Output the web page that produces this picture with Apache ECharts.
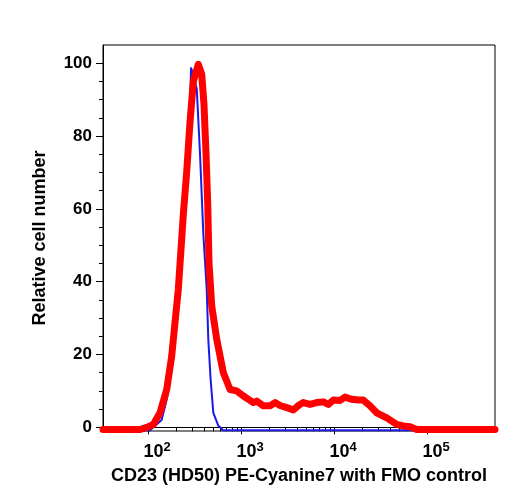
<!DOCTYPE html>
<html>
<head>
<meta charset="utf-8">
<script src="https://cdn.jsdelivr.net/npm/echarts@6/dist/echarts.min.js"></script>
<style>
  html, body { margin: 0; padding: 0; background: #fff; }
  #chart { width: 516px; height: 503px; }
</style>
</head>
<body>
<div id="chart"></div>
<script>
// FMO control (blue)
const fmoX = [32.8, 105, 140, 160, 181, 197, 214, 233, 248, 266, 281, 289.9, 334.2, 362.4, 393.4, 427.6, 445, 471.7, 503.5, 569.6, 639.9, 538000];
const fmoY = [-0.8, -0.8, 2, 8, 17, 26, 36, 50, 60, 72, 84, 98.8, 93, 75, 53, 38, 24, 13, 4, 0.5, -0.8, -0.8];

// CD23 stained (red)
const cd23X = [32.8, 82, 96.8, 114, 134.6, 158.8, 179.8, 195, 211.7, 230, 239.7, 260.9, 283, 307, 347.5, 377.7, 399.6, 420.6, 438.7, 452.9, 484.2, 548, 645.7, 762, 899, 1060, 1250, 1356, 1475, 1738, 2051, 2321, 2626, 3100, 3650, 4130, 4676, 5519, 6513, 7677, 8690, 9827, 11610, 13130, 15490, 18250, 20660, 24380, 28770, 36870, 47210, 55600, 65610, 77440, 538000];
const cd23Y = [-0.6, -0.6, 0, 0.8, 4, 10.4, 19.6, 28.8, 37.9, 51.6, 58.5, 70.4, 84, 95, 99.7, 97, 88.7, 75, 61, 45, 33.3, 24.2, 15, 10.4, 10, 8.6, 7.4, 6.8, 7.2, 5.9, 5.9, 6.8, 6, 5.4, 4.8, 6, 6.8, 6.3, 6.8, 7, 6.3, 7.5, 7.4, 8.3, 7.7, 7.5, 7.5, 5.9, 4, 2.6, 0.8, 0.4, 0.2, -0.6, -0.6];

const xMajor = [100, 1000, 10000, 100000];
const xMinor = [40, 50, 60, 70, 80, 90, 200, 300, 400, 500, 600, 700, 800, 900, 2000, 3000, 4000, 5000, 6000, 7000, 8000, 9000, 20000, 30000, 40000, 50000, 60000, 70000, 80000, 90000, 200000, 300000, 400000, 500000];
const yMajor = [0, 20, 40, 60, 80, 100];
const yMinor = [5, 10, 15, 25, 30, 35, 45, 50, 55, 65, 70, 75, 85, 90, 95];

const font = '"Liberation Sans", Arial, Helvetica, sans-serif';
const myChart = echarts.init(document.getElementById('chart'));

const xRange = { min: 32.8, max: 538000 };
const yRange = { min: -1, max: 105 };

myChart.setOption({
  animation: false,
  grid: {
    left: 103, right: 21, top: 45, bottom: 72,
    show: true, borderColor: '#000', borderWidth: 1
  },
  xAxis: [
    {
      type: 'log', ...xRange,
      name: 'CD23 (HD50) PE-Cyanine7 with FMO control',
      nameLocation: 'middle', nameGap: 36,
      nameTextStyle: { color: '#000', fontFamily: font, fontWeight: 'bold', fontSize: 18 },
      axisLine: { lineStyle: { color: '#000', width: 1 } },
      axisTick: { customValues: xMajor, length: 7, lineStyle: { color: '#000' } },
      axisLabel: {
        customValues: xMajor, margin: 10, color: '#000',
        formatter: v => '{b|10}{s|' + Math.round(Math.log10(v)) + '}',
        rich: {
          b: { fontFamily: font, fontWeight: 'bold', fontSize: 18, color: '#000', padding: [0, 0, 0, 18], lineHeight: 22 },
          s: { fontFamily: font, fontWeight: 'bold', fontSize: 13, color: '#000', verticalAlign: 'top', lineHeight: 22, padding: [0, 0, 8, 0] }
        }
      },
      splitLine: { show: false }
    },
    {
      type: 'log', ...xRange, position: 'bottom',
      axisLine: { show: false },
      axisTick: { customValues: xMinor, length: 4, lineStyle: { color: '#000' } },
      axisLabel: { show: false },
      splitLine: { show: false }
    }
  ],
  yAxis: [
    {
      type: 'value', ...yRange,
      name: 'Relative cell number',
      nameLocation: 'middle', nameGap: 54,
      nameTextStyle: { color: '#000', fontFamily: font, fontWeight: 'bold', fontSize: 18 },
      axisLine: { show: true, lineStyle: { color: '#000', width: 1 } },
      axisTick: { show: true, customValues: yMajor, length: 7, lineStyle: { color: '#000' } },
      axisLabel: { customValues: yMajor, margin: 11, color: '#000', fontFamily: font, fontWeight: 'bold', fontSize: 17 },
      splitLine: { show: false }
    },
    {
      type: 'value', ...yRange, position: 'left',
      axisLine: { show: false },
      axisTick: { show: true, customValues: yMinor, length: 4, lineStyle: { color: '#000' } },
      axisLabel: { show: false },
      splitLine: { show: false }
    }
  ],
  series: [
    {
      name: 'FMO', type: 'line', showSymbol: false,
      data: fmoX.map((x, i) => [x, fmoY[i]]),
      lineStyle: { color: '#1a1ae6', width: 2 },
      z: 2
    },
    {
      name: 'CD23', type: 'line', showSymbol: false,
      data: cd23X.map((x, i) => [x, cd23Y[i]]),
      lineStyle: { color: '#ff0000', width: 7, join: 'round', cap: 'round' },
      z: 3
    }
  ]
});
</script>
</body>
</html>
